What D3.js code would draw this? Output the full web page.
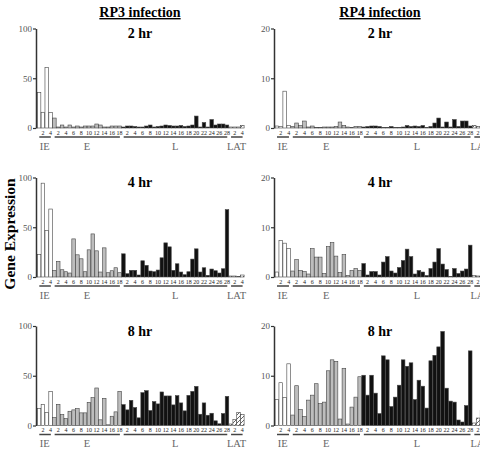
<!DOCTYPE html>
<html>
<head>
<meta charset="utf-8">
<script src="https://cdn.jsdelivr.net/npm/d3@7"></script>
<style>
    body { margin: 0; background: #fff; }
    svg text { font-family: "Liberation Serif", "Times New Roman", serif; }
</style>
</head>
<body>
<div id="chart"></div>
<script>
//Grupos de genes y número de barras por grupo
const GROUPS = ['IE', 'E', 'L', 'LAT'];
const GROUP_SIZES = [4, 18, 28, 4];
const TIMES = ['2 hr', '4 hr', '8 hr'];
const INFECTIONS = ['RP3 infection', 'RP4 infection'];
const Y_TICKS_RP3 = [0, 50, 100];
const Y_TICKS_RP4 = [0, 10, 20];

//RP3 - 2 hr
const rp3_2hr_IE = [35.7, 15.8, 61, 15.5];
const rp3_2hr_E = [10, 1, 3, 1, 3, 1, 2, 1, 2, 2, 2, 4, 3, 1, 1, 2, 2, 2];
const rp3_2hr_L = [1, 2, 2, 1.5, 1, 1, 2, 3, 1, 1.5, 2, 3, 2.5, 2, 2, 2.5, 1.5, 2, 3, 12, 1, 5.5, 1, 8.5, 3, 4, 4, 3];
const rp3_2hr_LAT = [1, 1, 1, 2.5];
//RP3 - 4 hr
const rp3_4hr_IE = [22.7, 94.3, 46.7, 68.3];
const rp3_4hr_E = [6.7, 15.7, 7.3, 5.3, 4, 38.3, 22.3, 18.3, 5.3, 27.3, 43.3, 26.3, 5, 29.3, 4.3, 6.3, 9.3, 4.3];
const rp3_4hr_L = [23.3, 3.3, 6.7, 6.7, 2, 16.3, 11.7, 6, 5.3, 7, 19.3, 34.3, 30.3, 6.7, 13.3, 5, 2.3, 5.3, 18, 28.3, 5, 9.3, 1.7, 8, 6.3, 4, 8.3, 67.7];
const rp3_4hr_LAT = [1, 1, 0.5, 2];
//RP3 - 8 hr
const rp3_8hr_IE = [17, 21, 13, 34.3];
const rp3_8hr_E = [8, 21.3, 11, 7, 14.3, 15.7, 17, 12.7, 12.7, 23.3, 28, 37.7, 5.7, 27.3, 0.7, 9.3, 13.7, 34.3];
const rp3_8hr_L = [21, 15.7, 25.3, 18, 7.7, 33, 35, 15, 24, 21.7, 33.7, 29.7, 29.7, 20.7, 30, 22.7, 14.7, 30.3, 34.3, 39.3, 11.3, 22.7, 10.3, 12.3, 4.7, 1.7, 12, 29.3];
const rp3_8hr_LAT = [1.5, 6, 13, 11];
//RP4 - 2 hr
const rp4_2hr_IE = [0.4, 0.3, 7.4, 0.5];
const rp4_2hr_E = [0.3, 1.0, 0.5, 1.4, 0.2, 0.4, 0.1, 0.1, 0.2, 0.2, 0.2, 0.3, 1.2, 0.5, 0.2, 0.1, 0.3, 0.3];
const rp4_2hr_L = [0.2, 0.3, 0.4, 0.4, 0.3, 0.1, 0.1, 0.3, 0.1, 0.1, 0.2, 0.5, 0.3, 0.4, 0.3, 0.5, 0.1, 0.3, 1.0, 2.0, 0.2, 1.2, 0.2, 1.7, 0.3, 1.4, 1.4, 0.4];
const rp4_2hr_LAT = [0.5, 0.3, 0.2, 0.2];
//RP4 - 4 hr
const rp4_4hr_IE = [1.0, 7.3, 6.8, 5.7];
const rp4_4hr_E = [1.2, 3.5, 1.3, 1.1, 0.6, 5.7, 4.0, 4.0, 0.7, 6.1, 6.9, 4.2, 0.9, 4.5, 0.3, 1.3, 1.7, 1.3];
const rp4_4hr_L = [2.7, 0.4, 1.1, 1.1, 0.4, 3.0, 4.1, 1.2, 0.8, 1.9, 3.3, 5.6, 4.1, 0.6, 1.3, 1.0, 0.3, 1.7, 3.0, 5.7, 2.6, 1.5, 0.1, 1.7, 0.7, 1.2, 1.6, 6.4];
const rp4_4hr_LAT = [0.3, 0.2, 0.1, 0.1];
//RP4 - 8 hr
const rp4_8hr_IE = [5.2, 8.6, 5.6, 12.4];
const rp4_8hr_E = [2.1, 8, 3.2, 1.8, 5.1, 6.1, 8.4, 4.4, 4.7, 11, 13.2, 12.9, 1.3, 11.5, 0.3, 3.7, 5.7, 9.8];
const rp4_8hr_L = [10.1, 6.1, 10.1, 6.5, 2.4, 14, 13.2, 3.8, 5.7, 8.1, 13.2, 11.9, 12.6, 5.2, 9.1, 7.9, 3.5, 13, 14.1, 15.8, 18.9, 7.5, 4.9, 4.7, 1.1, 0.7, 4, 15];
const rp4_8hr_LAT = [0.5, 1.5, 3, 3];

//Colores por grupo
const COLORS = { IE: '#ffffff', E: '#bdbdbd', L: '#111111', LAT: 'url(#hatch)' };

//Paneles: columna 0 = RP3, columna 1 = RP4
const panels = [
    { col: 0, row: 0, values: [rp3_2hr_IE, rp3_2hr_E, rp3_2hr_L, rp3_2hr_LAT] },
    { col: 0, row: 1, values: [rp3_4hr_IE, rp3_4hr_E, rp3_4hr_L, rp3_4hr_LAT] },
    { col: 0, row: 2, values: [rp3_8hr_IE, rp3_8hr_E, rp3_8hr_L, rp3_8hr_LAT] },
    { col: 1, row: 0, values: [rp4_2hr_IE, rp4_2hr_E, rp4_2hr_L, rp4_2hr_LAT] },
    { col: 1, row: 1, values: [rp4_4hr_IE, rp4_4hr_E, rp4_4hr_L, rp4_4hr_LAT] },
    { col: 1, row: 2, values: [rp4_8hr_IE, rp4_8hr_E, rp4_8hr_L, rp4_8hr_LAT] }
];

let width = 480, height = 450;
let colAxisX = [36, 274];
let colRange = [[37.3, 244.1], [275, 487.8]];
let colCenter = [140, 380];
let rowBase = [128, 277, 425.5];
let rowHeight = 99.5;

let svg = d3.select('#chart')
    .append('svg')
        .attr('width', width)
        .attr('height', height);

//Trama para LAT
let pattern = svg.append('defs').append('pattern')
    .attr('id', 'hatch')
    .attr('patternUnits', 'userSpaceOnUse')
    .attr('width', 4)
    .attr('height', 4);
pattern.append('rect').attr('width', 4).attr('height', 4).attr('fill', '#fff');
pattern.append('path')
    .attr('d', 'M-1,1 l2,-2 M0,4 l4,-4 M3,5 l2,-2')
    .attr('stroke', '#222')
    .attr('stroke-width', 0.7);

//Títulos de columna
INFECTIONS.forEach(function(t, i) {
    svg.append('text')
        .attr('x', colCenter[i])
        .attr('y', 17)
        .attr('text-anchor', 'middle')
        .attr('font-size', 14)
        .attr('font-weight', 'bold')
        .attr('text-decoration', 'underline')
        .text(t);
});

//Título eje Y
svg.append('text')
    .attr('transform', 'translate(15,234) rotate(-90)')
    .attr('text-anchor', 'middle')
    .attr('font-size', 15.5)
    .attr('font-weight', 'bold')
    .text('Gene Expression');

panels.forEach(function(p) {
    let keys = [];
    let data = [];
    GROUPS.forEach(function(g, gi) {
        for (let i = 0; i < GROUP_SIZES[gi]; i++) {
            let key = g + '_' + (i + 1);
            keys.push(key);
            data.push({ key: key, group: g, n: i + 1, value: p.values[gi][i] });
        }
    });

    let x = d3.scaleBand()
        .domain(keys)
        .range(colRange[p.col])
        .paddingInner(0.08);

    let ticks = p.col == 0 ? Y_TICKS_RP3 : Y_TICKS_RP4;
    let y0 = rowBase[p.row];
    let y = d3.scaleLinear()
        .domain([0, ticks[ticks.length - 1]])
        .range([y0, y0 - rowHeight]);

    let g = svg.append('g');

    //Barras
    g.selectAll('rect')
        .data(data)
        .enter()
        .append('rect')
        .attr('x', function(d) { return x(d.key); })
        .attr('width', x.bandwidth())
        .attr('y', function(d) { return y(d.value); })
        .attr('height', function(d) { return y(0) - y(d.value); })
        .attr('fill', function(d) { return COLORS[d.group]; })
        .attr('stroke', '#444')
        .attr('stroke-width', 0.6);

    //Eje Y
    let yAxis = function(g) {
        g.call(d3.axisLeft(y).tickValues(ticks).tickSize(3).tickSizeOuter(0));
        g.call(function(g) { g.select('.domain').attr('stroke', '#333').attr('stroke-width', 1.5); });
        g.call(function(g) { g.selectAll('.tick line').attr('stroke', '#333').attr('stroke-width', 1.2); });
        g.call(function(g) {
            g.selectAll('.tick text')
                .attr('font-size', 9)
                .attr('fill', '#555')
                .attr('x', -4)
                .style('font-family', '"Liberation Serif", serif');
        });
    };
    g.append('g')
        .attr('transform', 'translate(' + colAxisX[p.col] + ',0)')
        .call(yAxis);

    //Etiquetas de barras pares
    g.selectAll('.bar-label')
        .data(data.filter(function(d) { return d.n % 2 == 0; }))
        .enter()
        .append('text')
        .attr('class', 'bar-label')
        .attr('x', function(d) { return x(d.key) + x.bandwidth() / 2; })
        .attr('y', y0 + 6.5)
        .attr('text-anchor', 'middle')
        .attr('font-size', 6)
        .attr('fill', '#222')
        .text(function(d) { return d.n; });

    //Líneas y nombres de grupo
    GROUPS.forEach(function(gr, gi) {
        let first = x(gr + '_1');
        let last = x(gr + '_' + GROUP_SIZES[gi]) + x.bandwidth();
        g.append('line')
            .attr('x1', first + 2)
            .attr('x2', last - 1.5)
            .attr('y1', y0 + 9)
            .attr('y2', y0 + 9)
            .attr('stroke', '#444')
            .attr('stroke-width', 1.5);
        g.append('text')
            .attr('x', (first + last) / 2)
            .attr('y', y0 + 21.5)
            .attr('text-anchor', 'middle')
            .attr('font-size', 10.5)
            .attr('fill', '#666')
            .text(gr);
    });

    //Tiempo
    g.append('text')
        .attr('x', colCenter[p.col])
        .attr('y', y0 - 90)
        .attr('text-anchor', 'middle')
        .attr('font-size', 14)
        .attr('font-weight', 'bold')
        .text(TIMES[p.row]);
});
</script>
</body>
</html>
